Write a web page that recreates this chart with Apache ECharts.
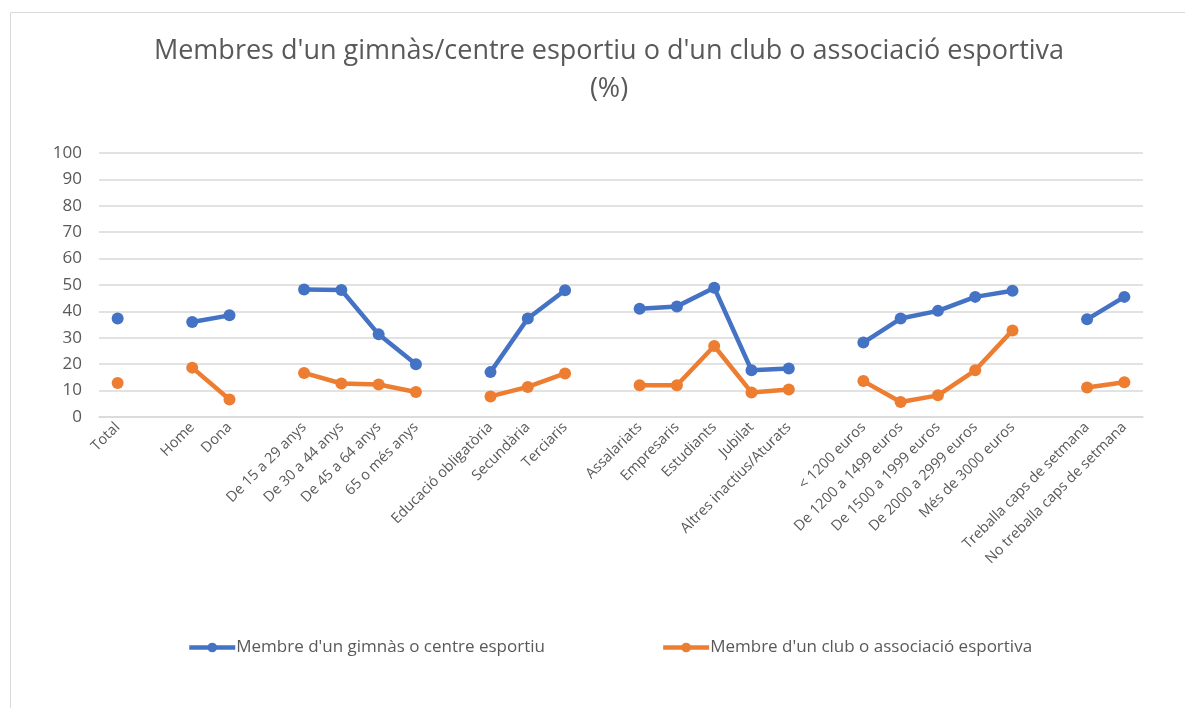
<!DOCTYPE html>
<html>
<head>
<meta charset="utf-8">
<script src="https://cdn.jsdelivr.net/npm/echarts@6/dist/echarts.min.js"></script>
<style>
  html, body { margin: 0; padding: 0; background: #fff; }
  #chart { width: 1185px; height: 708px; }
</style>
</head>
<body>
<div id="chart"></div>
<script>
// categories ('' = blank gap between groups)
const categories = [
  'Total', '',
  'Home', 'Dona', '',
  'De 15 a 29 anys', 'De 30 a 44 anys', 'De 45 a 64 anys', '65 o més anys', '',
  'Educació obligatòria', 'Secundària', 'Terciaris', '',
  'Assalariats', 'Empresaris', 'Estudiants', 'Jubilat', 'Altres inactius/Aturats', '',
  '< 1200 euros', 'De 1200 a 1499 euros', 'De 1500 a 1999 euros', 'De 2000 a 2999 euros', 'Més de 3000 euros', '',
  'Treballa caps de setmana', 'No treballa caps de setmana'
]

const gimnas = [
  37.3, null,
  36.0, 38.5, null,
  48.3, 48.1, 31.3, 20.0, null,
  17.0, 37.3, 48.0, null,
  41.0, 41.9, 49.0, 17.7, 18.4, null,
  28.2, 37.3, 40.2, 45.5, 47.8, null,
  37.0, 45.5
]

const club = [
  12.9, null,
  18.7, 6.6, null,
  16.7, 12.7, 12.3, 9.5, null,
  7.8, 11.4, 16.5, null,
  12.0, 12.0, 26.9, 9.3, 10.4, null,
  13.6, 5.7, 8.2, 17.7, 32.8, null,
  11.2, 13.2
]

const seriesNames = ["Membre d'un gimnàs o centre esportiu", "Membre d'un club o associació esportiva"]
const titleText = "Membres d'un gimnàs/centre esportiu o d'un club o associació esportiva\n(%)"

const font = '"Open Sans", sans-serif'
const chart = echarts.init(document.getElementById('chart'))

const lineSeries = (name, data, color) => ({
  name,
  type: 'line',
  data,
  connectNulls: false,
  symbol: 'circle',
  symbolSize: 12,
  lineStyle: { color, width: 4.5 },
  itemStyle: { color },
  animation: false
})

chart.setOption({
  backgroundColor: '#fff',
  graphic: [{
    type: 'rect',
    shape: { x: 10.5, y: 12.5, width: 1200, height: 720 },
    style: { fill: 'none', stroke: '#d9d9d9', lineWidth: 1 },
    silent: true
  }],
  title: {
    text: titleText,
    left: 604,
    top: 27,
    textAlign: 'center',
    textStyle: { fontFamily: font, fontSize: 27, fontWeight: 'normal', color: '#595959', lineHeight: 38 }
  },
  legend: {
    left: 182,
    top: 634,
    itemWidth: 46,
    itemHeight: 12,
    itemGap: 116,
    lineStyle: { width: 4.5 },
    textStyle: { fontFamily: font, fontSize: 17, color: '#595959', padding: [0, 0, 0, -4] },
    data: seriesNames
  },
  grid: { left: 99, right: 42, top: 153, bottom: 291 },
  xAxis: {
    type: 'category',
    data: categories,
    boundaryGap: true,
    axisLine: { lineStyle: { color: '#d9d9d9', width: 1.5 } },
    axisTick: { show: false },
    axisLabel: {
      interval: 0,
      rotate: 45,
      margin: 8,
      fontFamily: font,
      fontSize: 14.5,
      color: '#595959'
    }
  },
  yAxis: {
    type: 'value',
    min: 0,
    max: 100,
    interval: 10,
    axisLine: { show: false },
    axisTick: { show: false },
    axisLabel: { fontFamily: font, fontSize: 17, color: '#595959', margin: 17 },
    splitLine: { lineStyle: { color: '#d9d9d9', width: 1.5 } }
  },
  series: [
    lineSeries(seriesNames[0], gimnas, '#4472C4'),
    lineSeries(seriesNames[1], club, '#ED7D31')
  ]
})
</script>
</body>
</html>
